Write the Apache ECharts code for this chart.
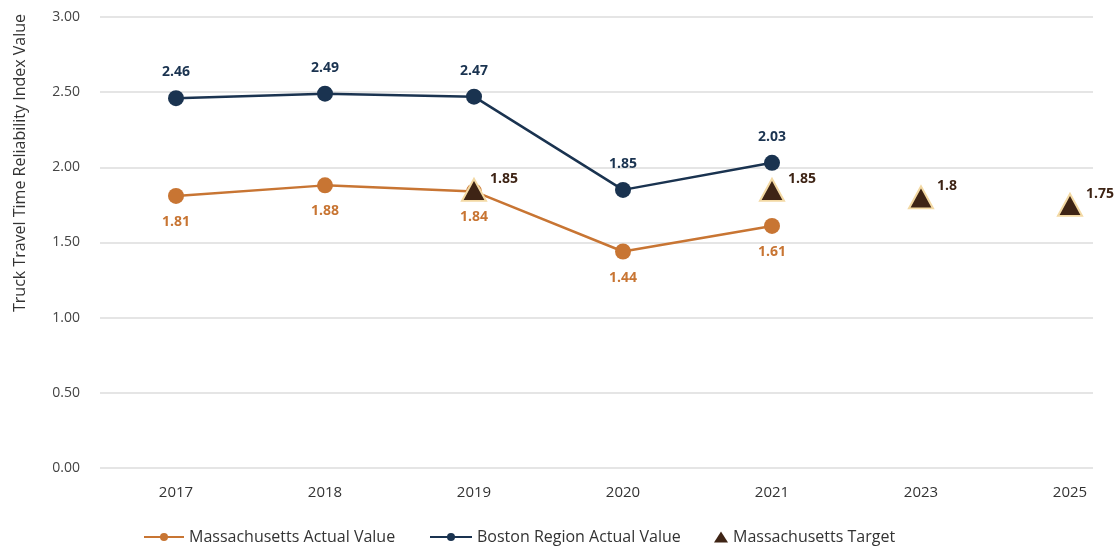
<!DOCTYPE html>
<html><head><meta charset="utf-8">
<script src="https://cdn.jsdelivr.net/npm/echarts@6/dist/echarts.min.js"></script>
<style>html,body{margin:0;padding:0;background:#fff}#c{width:1117px;height:547px}</style>
</head><body><div id="c"></div>
<script>
var categories = ['2017','2018','2019','2020','2021','2023','2025'];
var maActual = [1.81, 1.88, 1.84, 1.44, 1.61, null, null];
var bostonActual = [2.46, 2.49, 2.47, 1.85, 2.03, null, null];
var maTarget = [null, null, 1.85, null, 1.85, 1.8, 1.75];
var yTicks = [0, 0.5, 1, 1.5, 2, 2.5, 3];

var chart = echarts.init(document.getElementById('c'));
var font = 'Open Sans, Lato, sans-serif';
var legendText = {color: '#333', fontSize: 16, fontFamily: font};
chart.setOption({
  backgroundColor: '#fff',
  textStyle: {fontFamily: font},
  grid: [
    {left: 100, right: 24, top: 17, bottom: 79},
    {left: 176, right: 47, top: 17, bottom: 79}
  ],
  xAxis: [
    {gridIndex: 0, type: 'value', min: 0, max: 1, show: false},
    {gridIndex: 1, type: 'category', data: categories, boundaryGap: false,
     axisLine: {show: false}, axisTick: {show: false},
     axisLabel: {color: '#333', fontSize: 15, margin: 17, fontFamily: font}}
  ],
  yAxis: [
    {gridIndex: 0, type: 'value', min: yTicks[0], max: yTicks[yTicks.length - 1], interval: 0.5,
     axisLine: {show: false}, axisTick: {show: false},
     axisLabel: {color: '#444', fontSize: 14, margin: 20, fontFamily: font,
                 formatter: function (v) { return v.toFixed(2); }},
     splitLine: {lineStyle: {color: '#dcdcdc', width: 1.5}}},
    {gridIndex: 1, type: 'value', min: 0, max: 3, show: false, splitLine: {show: false}}
  ],
  graphic: [{
    type: 'text', x: 20, y: 163, rotation: Math.PI / 2,
    style: {text: 'Truck Travel Time Reliability Index Value', fill: '#333',
            font: '16px ' + font, align: 'center', verticalAlign: 'middle'}
  }],
  legend: [
    {top: 524, left: 138, itemWidth: 40, itemHeight: 10, textStyle: legendText,
     data: ['Massachusetts Actual Value']},
    {top: 524, left: 424, itemWidth: 42, itemHeight: 10, textStyle: legendText,
     data: ['Boston Region Actual Value']},
    {top: 524, left: 709, itemWidth: 14, itemHeight: 11, itemGap: 8, textStyle: legendText,
     data: [{name: 'Massachusetts Target', itemStyle: {borderWidth: 0}}]}
  ],
  series: [
    {name: 'Massachusetts Actual Value', type: 'line', xAxisIndex: 1, yAxisIndex: 1,
     data: maActual, symbol: 'circle', symbolSize: 16, z: 2,
     lineStyle: {color: '#c87533', width: 2.5}, itemStyle: {color: '#c87533'},
     label: {show: true, position: 'bottom', distance: 11, color: '#c87533',
             fontWeight: 'bold', fontSize: 14, fontFamily: font}},
    {name: 'Boston Region Actual Value', type: 'line', xAxisIndex: 1, yAxisIndex: 1,
     data: bostonActual, symbol: 'circle', symbolSize: 16, z: 2,
     lineStyle: {color: '#1a3350', width: 2.5}, itemStyle: {color: '#1a3350'},
     label: {show: true, position: 'top', distance: 11, color: '#1a3350',
             fontWeight: 'bold', fontSize: 14, fontFamily: font}},
    {name: 'Massachusetts Target', type: 'scatter', xAxisIndex: 1, yAxisIndex: 1,
     data: maTarget, symbol: 'triangle', symbolSize: [24, 22], z: 3,
     itemStyle: {color: '#3e2415', borderColor: '#f3d9a4', borderWidth: 2, opacity: 1},
     label: {show: true, position: 'right', distance: 3, offset: [0, -11], color: '#3e2415',
             fontWeight: 'bold', fontSize: 14, fontFamily: font,
             formatter: function (p) { return String(p.value); }}}
  ]
});
</script></body></html>
